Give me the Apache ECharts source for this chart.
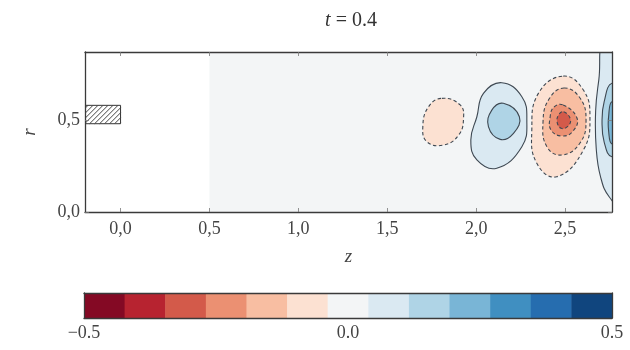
<!DOCTYPE html>
<html><head><meta charset="utf-8">
<script src="https://cdn.jsdelivr.net/npm/echarts@6/dist/echarts.min.js"></script>
<style>html,body{margin:0;padding:0;background:#fff}#c{width:630px;height:350px}</style>
</head><body><div id="c"></div>
<script>
// ---- data ----
const xTicks = [0.0, 0.5, 1.0, 1.5, 2.0, 2.5];
const yTicks = [0.0, 0.5];
const cbTicks = [-0.5, 0.0, 0.5];
const xRange = [-0.2, 2.764];
const yRange = [0.0, 0.87];
const levels = [-0.5, -0.4231, -0.3462, -0.2692, -0.1923, -0.1154, -0.0385, 0.0385, 0.1154, 0.1923, 0.2692, 0.3462, 0.4231, 0.5];
const binColors = ['#840924', '#b72330', '#d35a4a', '#eb9072', '#f8bea2', '#fce1d2', '#f3f5f6', '#dae9f2', '#afd4e6', '#79b5d6', '#408fc1', '#266daf', '#10457e'];
const domain = [[0.5, 0.0], [2.764, 0.0], [2.764, 0.87], [0.5, 0.87]];
const obstacle = [[-0.2, 0.48, 0.0, 0.58]];

const peachBlob = [[1.807, 0.618], [1.910, 0.582], [1.929, 0.509], [1.901, 0.418], [1.816, 0.364], [1.723, 0.382], [1.700, 0.464], [1.732, 0.572]];
const blueOuter = [[2.144, 0.703], [2.257, 0.627], [2.285, 0.500], [2.257, 0.355], [2.116, 0.238], [2.004, 0.283], [1.970, 0.391], [2.004, 0.518], [2.041, 0.645]];
const blueInner = [[2.153, 0.591], [2.243, 0.518], [2.210, 0.428], [2.135, 0.395], [2.069, 0.464], [2.088, 0.554]];
const redOuter = [[2.490, 0.739], [2.603, 0.663], [2.640, 0.518], [2.603, 0.337], [2.453, 0.192], [2.341, 0.265], [2.313, 0.446], [2.350, 0.645]];
const redMid = [[2.494, 0.674], [2.584, 0.620], [2.618, 0.500], [2.584, 0.375], [2.483, 0.310], [2.399, 0.353], [2.376, 0.489], [2.410, 0.614]];
const redInner = [[2.489, 0.582], [2.567, 0.511], [2.545, 0.440], [2.483, 0.413], [2.421, 0.446], [2.416, 0.516], [2.438, 0.571]];
const redCore = [[2.492, 0.545], [2.530, 0.505], [2.515, 0.465], [2.478, 0.455], [2.455, 0.490], [2.465, 0.530]];
const edgeOuter = [[2.725, 0.96], [2.690, 0.72], [2.672, 0.55], [2.675, 0.35], [2.700, 0.19], [2.750, 0.08], [2.850, 0.00], [2.950, 0.45], [2.850, 0.96]];
const edgeInner = [[2.764, 0.70], [2.720, 0.60], [2.708, 0.50], [2.720, 0.38], [2.764, 0.30], [2.850, 0.35], [2.880, 0.50], [2.850, 0.65]];
const edgeCore = [[2.764, 0.60], [2.745, 0.52], [2.745, 0.44], [2.764, 0.37], [2.820, 0.42], [2.820, 0.55]];

// contour regions: [points, bin index]
const regions = [
  [peachBlob, 5],
  [blueOuter, 7], [blueInner, 8],
  [redOuter, 5], [redMid, 4], [redInner, 3], [redCore, 2],
  [edgeOuter, 7], [edgeInner, 8], [edgeCore, 9]
];

// ---- chart ----
const FONT = 'Liberation Serif';
const chart = echarts.init(document.getElementById('c'), null, {renderer: 'canvas'});
const commaFmt = v => v.toFixed(1).replace('.', ',');
const frameLine = {show: true, onZero: false, lineStyle: {color: '#3a3a3a', width: 1.3}};
const tickIn = vals => ({show: true, inside: true, length: 4, customValues: vals, lineStyle: {color: '#777', width: 0.8}});

const cbBins = levels.slice(0, -1).map((lo, i) => [lo, levels[i + 1], i]);

chart.setOption({
  animation: false,
  title: {
    text: '{i|t} = 0.4', left: 346, top: 6, textAlign: 'center',
    textStyle: {fontFamily: FONT, fontSize: 20, fontWeight: 'normal', color: '#333',
      rich: {i: {fontFamily: FONT, fontSize: 20, fontStyle: 'italic', color: '#333'}}}
  },
  grid: [
    {left: 85, right: 18, top: 52, height: 160},
    {left: 84, right: 18, top: 293, height: 25}
  ],
  xAxis: [
    {gridIndex: 0, type: 'value', min: xRange[0], max: xRange[1], position: 'bottom', z: 5,
     axisLine: frameLine, axisTick: tickIn(xTicks), splitLine: {show: false},
     axisLabel: {customValues: xTicks, formatter: commaFmt, margin: 8, fontFamily: FONT, fontSize: 18, color: '#444'},
     name: 'z', nameLocation: 'middle', nameGap: 35,
     nameTextStyle: {fontFamily: FONT, fontSize: 19, fontStyle: 'italic', color: '#444'}},
    {gridIndex: 0, type: 'value', min: xRange[0], max: xRange[1], position: 'top', z: 5,
     axisLine: frameLine, axisTick: tickIn(xTicks), splitLine: {show: false}, axisLabel: {show: false}},
    {gridIndex: 1, type: 'value', min: -0.5, max: 0.5, interval: 0.5, position: 'bottom', z: 5,
     axisLine: frameLine, axisTick: {show: false}, splitLine: {show: false},
     axisLabel: {formatter: v => (v < 0 ? '\u2212' + Math.abs(v).toFixed(1) : v.toFixed(1)), margin: 6,
       fontFamily: FONT, fontSize: 18, color: '#444', showMinLabel: true, showMaxLabel: true}},
    {gridIndex: 1, type: 'value', min: -0.5, max: 0.5, position: 'top', z: 5,
     axisLine: frameLine, axisTick: {show: false}, splitLine: {show: false}, axisLabel: {show: false}}
  ],
  yAxis: [
    {gridIndex: 0, type: 'value', min: yRange[0], max: yRange[1], position: 'left', z: 5,
     axisLine: frameLine, axisTick: tickIn(yTicks), splitLine: {show: false},
     axisLabel: {customValues: yTicks, formatter: commaFmt, margin: 5, fontFamily: FONT, fontSize: 18, color: '#444'},
     name: 'r', nameLocation: 'middle', nameGap: 46, nameRotate: 90,
     nameTextStyle: {fontFamily: FONT, fontSize: 19, fontStyle: 'italic', color: '#444'}},
    {gridIndex: 0, type: 'value', min: yRange[0], max: yRange[1], position: 'right', z: 5,
     axisLine: frameLine, axisTick: tickIn(yTicks), splitLine: {show: false}, axisLabel: {show: false}},
    {gridIndex: 1, type: 'value', min: 0, max: 1, position: 'left', z: 5,
     axisLine: frameLine, axisTick: {show: false}, splitLine: {show: false}, axisLabel: {show: false}},
    {gridIndex: 1, type: 'value', min: 0, max: 1, position: 'right', z: 5,
     axisLine: frameLine, axisTick: {show: false}, splitLine: {show: false}, axisLabel: {show: false}}
  ],
  series: [
    { // data domain background
      type: 'custom', xAxisIndex: 0, yAxisIndex: 0, clip: true, silent: true,
      data: [[0]],
      renderItem: (params, api) => ({
        type: 'polygon',
        shape: {points: domain.map(p => api.coord(p))},
        style: {fill: binColors[6], stroke: null}
      })
    },
    { // filled contours with contour lines
      type: 'custom', xAxisIndex: 0, yAxisIndex: 0, clip: true, silent: true,
      data: regions.map((r, i) => [i]),
      renderItem: (params, api) => {
        const r = regions[params.dataIndex];
        const neg = r[1] < 6;
        return {
          type: 'polygon',
          shape: {points: r[0].map(p => api.coord(p)), smooth: 0.45},
          style: {fill: binColors[r[1]], stroke: '#3e4852', lineWidth: 1.1, lineDash: neg ? [3.5, 2.5] : null}
        };
      }
    },
    { // hatched obstacle
      type: 'custom', xAxisIndex: 0, yAxisIndex: 0, clip: true, silent: true,
      data: obstacle,
      renderItem: (params, api) => {
        const p0 = api.coord([api.value(0), api.value(1)]);
        const p1 = api.coord([api.value(2), api.value(3)]);
        const x0 = Math.min(p0[0], p1[0]), x1 = Math.max(p0[0], p1[0]);
        const y0 = Math.min(p0[1], p1[1]), y1 = Math.max(p0[1], p1[1]);
        const children = [{type: 'rect', shape: {x: x0, y: y0, width: x1 - x0, height: y1 - y0},
          style: {fill: '#fff', stroke: '#333', lineWidth: 1}}];
        for (let c = x0 + y0 + 3; c < x1 + y1; c += 5) {
          const xa = Math.max(x0, c - y1), xb = Math.min(x1, c - y0);
          if (xb > xa) children.push({type: 'line', shape: {x1: xa, y1: c - xa, x2: xb, y2: c - xb},
            style: {stroke: '#444', lineWidth: 1}});
        }
        return {type: 'group', children};
      }
    },
    { // colorbar
      type: 'custom', xAxisIndex: 2, yAxisIndex: 2, silent: true,
      data: cbBins,
      renderItem: (params, api) => {
        const a = api.coord([api.value(0), 0]);
        const b = api.coord([api.value(1), 1]);
        return {type: 'rect', shape: {x: a[0], y: b[1], width: b[0] - a[0] + 0.5, height: a[1] - b[1]},
          style: {fill: binColors[api.value(2)]}};
      }
    }
  ]
});
</script>
</body></html>
